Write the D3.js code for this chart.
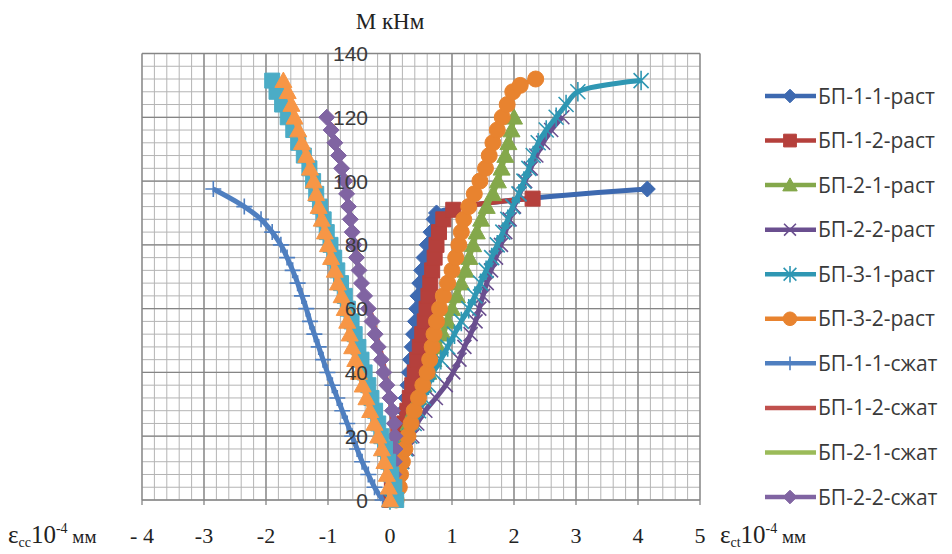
<!DOCTYPE html>
<html><head><meta charset="utf-8">
<script src="https://cdn.jsdelivr.net/npm/d3@7"></script>
<style>body{margin:0;background:#fff}svg{display:block}</style>
</head><body><svg id="c" width="952" height="554"></svg>
<script>
// ---------- DATA ----------
const seriesNames = ["БП-1-1-раст","БП-1-2-раст","БП-2-1-раст","БП-2-2-раст","БП-3-1-раст","БП-3-2-раст",
                     "БП-1-1-сжат","БП-1-2-сжат","БП-2-1-сжат","БП-2-2-сжат","БП-3-1-сжат","БП-3-2-сжат"];
const legendCount = 10;
const xTickValues = [-4,-3,-2,-1,0,1,2,3,4,5];
const xTickLabels = ["- 4","-3","-2","-1","0","1","2","3","4","5"];
const yTickValues = [0,20,40,60,80,100,120,140];

const s1_m = [0,4,8,12,16,20,24,28,32,36,40,44,48,52,56,60,64,68,72,76,80,84,88,90,97.5];
const s1_x = [0,0.03,0.06,0.1,0.13,0.16,0.19,0.22,0.26,0.29,0.31,0.33,0.36,0.38,0.41,0.43,0.45,0.48,0.51,0.55,0.6,0.66,0.71,0.75,4.15];

const s2_m = [0,4,8,12,16,20,24,28,32,36,40,44,48,52,56,60,64,68,72,76,80,84,88,91,94.5];
const s2_x = [0,0.03,0.06,0.1,0.14,0.18,0.23,0.28,0.32,0.36,0.4,0.44,0.48,0.52,0.56,0.59,0.62,0.65,0.68,0.72,0.75,0.79,0.86,1.02,2.3];

const s3_m = [0,4,8,12,16,20,24,28,32,36,40,44,48,52,56,60,64,68,72,76,80,84,88,92,96,100,104,108,112,116,120];
const s3_x = [0,0.04,0.08,0.12,0.17,0.23,0.3,0.38,0.46,0.54,0.62,0.7,0.78,0.86,0.93,1.0,1.08,1.15,1.22,1.28,1.34,1.4,1.47,1.56,1.66,1.74,1.8,1.86,1.91,1.96,2.0];

const s4_m = [0,4,8,12,16,20,24,28,32,36,40,44,48,52,56,60,64,68,72,76,80,84,88,92,96,100,104,108,112,116,120];
const s4_x = [0,0.06,0.12,0.2,0.28,0.36,0.44,0.57,0.74,0.9,1.02,1.12,1.2,1.3,1.38,1.44,1.5,1.56,1.63,1.71,1.79,1.86,1.93,2.0,2.09,2.18,2.27,2.36,2.47,2.6,2.78];

const s5_m = [0,4,8,12,16,20,24,28,32,36,40,44,48,52,56,60,64,68,72,76,80,84,88,92,96,100,104,108,112,116,120,124,128,131.5];
const s5_x = [0,0.06,0.12,0.18,0.25,0.32,0.39,0.46,0.54,0.62,0.7,0.82,0.93,1.04,1.15,1.27,1.37,1.46,1.55,1.64,1.73,1.82,1.9,1.98,2.08,2.16,2.24,2.31,2.39,2.52,2.68,2.84,3.03,4.05];

const s6_m = [0,4,8,12,16,20,24,28,32,36,40,44,48,52,56,60,64,68,72,76,80,84,88,92,96,100,104,108,112,116,120,124,128,130,132];
const s6_x = [0.1,0.15,0.17,0.2,0.24,0.29,0.34,0.39,0.46,0.53,0.6,0.64,0.68,0.71,0.75,0.8,0.86,0.93,1.0,1.06,1.11,1.15,1.19,1.27,1.36,1.45,1.54,1.6,1.66,1.73,1.81,1.89,1.98,2.1,2.35];

const s7_m = [0,4,8,12,16,20,24,28,32,36,40,44,48,52,56,60,64,68,72,76,80,84,88,92,97.5];
const s7_x = [-0.12,-0.25,-0.35,-0.45,-0.53,-0.61,-0.69,-0.77,-0.85,-0.93,-1.01,-1.08,-1.15,-1.22,-1.29,-1.35,-1.42,-1.49,-1.57,-1.66,-1.76,-1.9,-2.08,-2.35,-2.85];

const s8_m = [0,5,10,15,20,25,30,35,40,45,50,55,60];
const s8_x = [0.04,0.05,0.05,0.05,0.05,0.04,0.01,-0.03,-0.08,-0.13,-0.2,-0.26,-0.33];

const s9_m = [0,5,10,15,20,25,30,35,40,45,50];
const s9_x = [0.02,0,-0.04,-0.1,-0.17,-0.25,-0.33,-0.4,-0.48,-0.55,-0.61];

const s10_m = [0,4,8,12,16,20,24,28,32,36,40,44,48,52,56,60,64,68,72,76,80,84,88,92,96,100,104,108,112,116,120];
const s10_x = [0.05,0.05,0.06,0.07,0.08,0.08,0.07,0.04,0,-0.05,-0.1,-0.14,-0.19,-0.24,-0.29,-0.35,-0.41,-0.46,-0.5,-0.54,-0.58,-0.61,-0.64,-0.67,-0.7,-0.73,-0.78,-0.83,-0.89,-0.95,-1.02];

const s11_m = [0,4,8,12,16,20,24,28,32,36,40,44,48,52,56,60,64,68,72,76,80,84,88,92,96,100,104,108,112,116,120,124,128,131.5];
const s11_x = [0.1,0.07,0.02,-0.03,-0.08,-0.14,-0.19,-0.24,-0.3,-0.35,-0.41,-0.46,-0.51,-0.57,-0.62,-0.68,-0.73,-0.79,-0.85,-0.9,-0.96,-1.02,-1.07,-1.13,-1.19,-1.24,-1.3,-1.39,-1.48,-1.56,-1.65,-1.74,-1.83,-1.9];

const s12_m = [0,4,8,12,16,20,24,28,32,36,40,44,48,52,56,60,64,68,72,76,80,84,88,92,96,100,104,108,112,116,120,124,128,131.5];
const s12_x = [0,-0.02,-0.05,-0.09,-0.13,-0.19,-0.25,-0.32,-0.38,-0.44,-0.5,-0.56,-0.61,-0.65,-0.69,-0.73,-0.78,-0.84,-0.89,-0.95,-1.0,-1.05,-1.1,-1.15,-1.19,-1.23,-1.29,-1.35,-1.42,-1.48,-1.54,-1.59,-1.65,-1.72];

const seriesX = [s1_x,s2_x,s3_x,s4_x,s5_x,s6_x,s7_x,s8_x,s9_x,s10_x,s11_x,s12_x];
const seriesM = [s1_m,s2_m,s3_m,s4_m,s5_m,s6_m,s7_m,s8_m,s9_m,s10_m,s11_m,s12_m];

// ---------- STYLE ----------
const colors = ["#3d69b0","#b5403c","#84a84b","#6a4f8f","#2f97b3","#e8832f",
                "#4f7fc0","#c0504d","#9bbb59","#8064a2","#4bacc6","#f79646"];
const markers = ["diamond","square","triangle","x","star","circle","plus","none","none","diamond","square","triangle"];

const svg = d3.select("#c");
const x = d3.scaleLinear().domain([-4,5]).range([142,700]);
const y = d3.scaleLinear().domain([0,140]).range([500,53.5]);

// grid
const gGrid = svg.append("g");
const minorX = d3.range(0,46).map(i => -4 + i*0.2);
const minorY = d3.range(0,36).map(i => i*4);
gGrid.selectAll(".mx").data(minorX).join("line")
  .attr("x1", d => x(d)).attr("x2", d => x(d)).attr("y1", y(0)).attr("y2", y(140))
  .attr("stroke","#b4b4b4").attr("stroke-width",1);
gGrid.selectAll(".my").data(minorY).join("line")
  .attr("y1", d => y(d)).attr("y2", d => y(d)).attr("x1", x(-4)).attr("x2", x(5))
  .attr("stroke","#b4b4b4").attr("stroke-width",1);
gGrid.selectAll(".Mx").data(xTickValues).join("line")
  .attr("x1", d => x(d)).attr("x2", d => x(d)).attr("y1", y(0)+5).attr("y2", y(140))
  .attr("stroke","#858585").attr("stroke-width",1.3);
gGrid.selectAll(".My").data(yTickValues).join("line")
  .attr("y1", d => y(d)).attr("y2", d => y(d)).attr("x1", x(-4)).attr("x2", x(5))
  .attr("stroke","#858585").attr("stroke-width",1.3);

// markers
function markerPath(t, r){
  switch(t){
    case "diamond": return `M0,${-r}L${r},0L0,${r}L${-r},0Z`;
    case "square": return `M${-r},${-r}H${r}V${r}H${-r}Z`;
    case "triangle": return `M0,${-r}L${r},${r*0.8}L${-r},${r*0.8}Z`;
    case "circle": return `M${-r},0A${r},${r} 0 1,0 ${r},0A${r},${r} 0 1,0 ${-r},0Z`;
    case "x": return `M${-r},${-r}L${r},${r}M${-r},${r}L${r},${-r}`;
    case "star": return `M${-r},${-r}L${r},${r}M${-r},${r}L${r},${-r}M0,${-r*1.3}V${r*1.3}`;
    case "plus": return `M${-r},0H${r}M0,${-r}V${r}`;
  }
  return "";
}
const markerR = {diamond:8, square:7.5, triangle:8.5, circle:8, x:7, star:7.5, plus:8};
const filled = t => ["diamond","square","triangle","circle"].includes(t);

const line = d3.line().x(d => x(d[0])).y(d => y(d[1])).curve(d3.curveCatmullRom.alpha(0.5));
const gS = svg.append("g");
seriesX.forEach((xs, i) => {
  const pts = xs.map((v, j) => [v, seriesM[i][j]]);
  const g = gS.append("g");
  g.append("path").attr("d", line(pts)).attr("fill","none")
    .attr("stroke", colors[i]).attr("stroke-width",5).attr("stroke-linejoin","round");
  const t = markers[i];
  if (t !== "none") {
    g.selectAll("path.m").data(pts).join("path").attr("class","m")
      .attr("transform", d => `translate(${x(d[0])},${y(d[1])})`)
      .attr("d", markerPath(t, markerR[t]))
      .attr("fill", filled(t) ? colors[i] : "none")
      .attr("stroke", colors[i]).attr("stroke-width", filled(t) ? 1 : 1.6);
  }
});

// y labels
svg.append("g").selectAll("text").data(yTickValues).join("text")
  .attr("x", x(0) - 22).attr("y", d => y(d)).attr("dy","0.36em")
  .attr("text-anchor","end").attr("font-family","Liberation Sans, Arial, sans-serif")
  .attr("font-size",21).attr("fill","#3a3a3a").text(d => d);

// title
svg.append("text").attr("x", x(0)).attr("y", 29).attr("text-anchor","middle")
  .attr("font-family","Liberation Serif, Times New Roman, serif").attr("font-size",23)
  .attr("fill","#222").text("M кНм");

// x labels row
const rowY = 543;
const serif = "Liberation Serif, Times New Roman, serif";
svg.append("g").selectAll("text").data(xTickValues).join("text")
  .attr("x", d => x(d)).attr("y", rowY).attr("text-anchor","middle")
  .attr("font-family", serif).attr("font-size",22).attr("fill","#222")
  .text((d,i) => xTickLabels[i]);
function epsLabel(xpos, sub){
  const t = svg.append("text").attr("x", xpos).attr("y", rowY)
    .attr("font-family", serif).attr("font-size",25).attr("fill","#222");
  t.append("tspan").text("ε");
  t.append("tspan").attr("font-size",14).attr("dy",4).text(sub);
  t.append("tspan").attr("dy",-4).text("10");
  t.append("tspan").attr("font-size",14).attr("dy",-10).text("-4");
  t.append("tspan").attr("dy",10).attr("font-size",19).text(" мм");
  return t;
}
epsLabel(8, "cc");
epsLabel(x(5) + 20, "ct");

// legend
const ly = d3.scaleLinear().domain([0, legendCount-1]).range([96, 497]);
const gL = svg.append("g");
d3.range(legendCount).forEach(i => {
  const yy = ly(i);
  gL.append("line").attr("x1",765).attr("x2",816).attr("y1",yy).attr("y2",yy)
    .attr("stroke",colors[i]).attr("stroke-width",4.5);
  const t = markers[i];
  if (t !== "none") {
    gL.append("path").attr("transform",`translate(790,${yy})`).attr("d", markerPath(t, markerR[t]*0.85))
      .attr("fill", filled(t) ? colors[i] : "none").attr("stroke", colors[i])
      .attr("stroke-width", filled(t) ? 1 : 1.6);
  }
  gL.append("text").attr("x",818).attr("y",yy).attr("dy","0.36em")
    .attr("font-family","Open Sans, sans-serif").attr("font-size",21).attr("fill","#3a3a3a")
    .text(seriesNames[i]);
});
</script></body></html>
